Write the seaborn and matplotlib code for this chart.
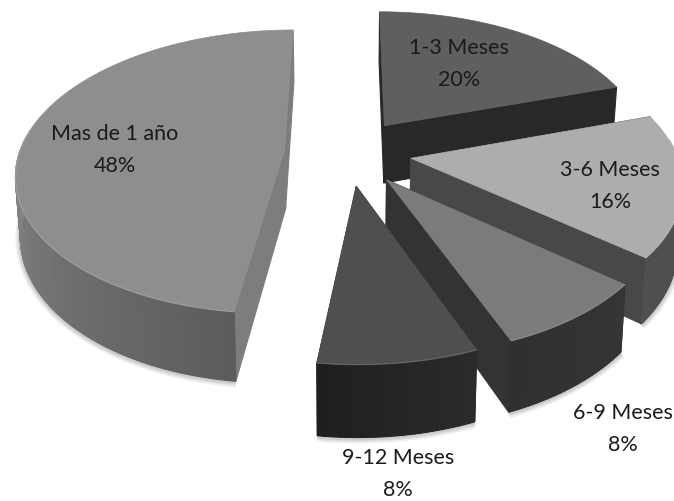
"""
Exploded 3D-look pie of time ranges, grey palette.
Seaborn has no pie, so the slices are projected by hand onto a plain axes.
"""
import numpy as np
import seaborn as sns
import matplotlib.pyplot as plt
from matplotlib.patches import Polygon

# data, clockwise from 12 o'clock
labels = ['1-3 Meses', '3-6 Meses', '6-9 Meses', '9-12 Meses', 'Mas de 1 año']
values = [20, 16, 8, 8, 48]

# greys
top_colors = ['#5f5f5f', '#adadad', '#7b7b7b', '#4f4f4f', '#8e8e8e']
cut_colors = ['#282828', '#484848', '#333333', '#303030', '#7d7d7d']
side_from = ['#282828', '#4e4e4e', '#353535', '#2b2b2b', '#5c5c5c']
side_to = ['#282828', '#505050', '#303030', '#1f1f1f', '#8a8a8a']

# text anchors, pixels
label_xy = [(459, 64), (610, 186), (623, 429), (398, 474), (115, 150)]

# projection of the pie plane
CX, CY = 348, 152
RX, RY = 265, 139
PERSP = 0.154
EXPLODE = 0.24
DEPTH = 59

sns.set_theme(style='white')
plt.rcParams['font.family'] = ['Lato', 'DejaVu Sans']


def project(u, v):
    """Unit-disc coordinates to pixels, also returns the perspective scale."""
    w = 1 / (1 + PERSP * v)
    return CX + RX * u * w, CY - RY * v * w, w


def drop(x, y, w):
    """Bottom of the extrusion under a top-surface point."""
    return CX + (x - CX) * 0.985, y + DEPTH * w


def quad(ax, x, y, w, color, z, lw=0.8):
    bx, by = drop(x, y, w)
    pts = np.column_stack([np.r_[x, bx[::-1]], np.r_[y, by[::-1]]])
    ax.add_patch(Polygon(pts, closed=True, fc=color, ec=color, lw=lw, zorder=z))


def draw_slice(ax, start, stop, k, z):
    mid = np.radians((start + stop) / 2)
    ou, ov = EXPLODE * np.sin(mid), EXPLODE * np.cos(mid)
    n = max(int(stop - start), 12) + 1
    t = np.radians(np.linspace(start, stop, n))
    x, y, w = project(ou + np.sin(t), ov + np.cos(t))
    ax_, ay, aw = project(ou, ov)

    # the two cut faces go first, the wall hides the ones facing away
    for j in (0, -1):
        quad(ax, np.array([ax_, x[j]]), np.array([ay, y[j]]), np.array([aw, w[j]]),
             cut_colors[k], z + 0.1)

    # only the front of the rim has a visible wall
    front = np.cos(t) < 0.15
    if front.sum() > 1:
        fx, fy, fw = x[front], y[front], w[front]

        # soft shadow along the bottom of the wall
        bx, by = drop(fx, fy, fw)
        for lw in (7, 4.5, 2.5):
            ax.plot(bx, by + 1, color='black', lw=lw, alpha=0.07, zorder=z,
                    solid_capstyle='butt')

        # base in the middle grey, then small quads for the gradient
        shades = sns.blend_palette([side_from[k], side_to[k]], len(fx) - 1)
        quad(ax, fx, fy, fw, shades[len(shades) // 2], z + 0.2, lw=0)
        for i in range(len(fx) - 1):
            quad(ax, fx[i:i + 2], fy[i:i + 2], fw[i:i + 2], shades[i], z + 0.2)

        ax.plot(fx, fy, color='white', lw=1, alpha=0.15, zorder=z + 0.4)

    # top surface
    pts = np.column_stack([np.r_[ax_, x], np.r_[ay, y]])
    ax.add_patch(Polygon(pts, closed=True, fc=top_colors[k], ec=top_colors[k],
                         lw=0.5, zorder=z + 0.3))


fig, ax = plt.subplots(figsize=(6.74, 5.01), dpi=100)
ax.set_position([0, 0, 1, 1])
ax.set_xlim(0, 674)
ax.set_ylim(501, 0)
ax.axis('off')

edges = np.r_[0, np.cumsum(values)] * 3.6
for k in range(len(values)):
    draw_slice(ax, edges[k], edges[k + 1], k, k + 1)

for k, (px, py) in enumerate(label_xy):
    ax.text(px, py, f'{labels[k]}\n{values[k]}%', ha='center', va='center',
            fontsize=15.5, color='#1a1a1a', linespacing=1.8, zorder=10,
            clip_on=False)

fig.savefig('out.png', dpi=100)
